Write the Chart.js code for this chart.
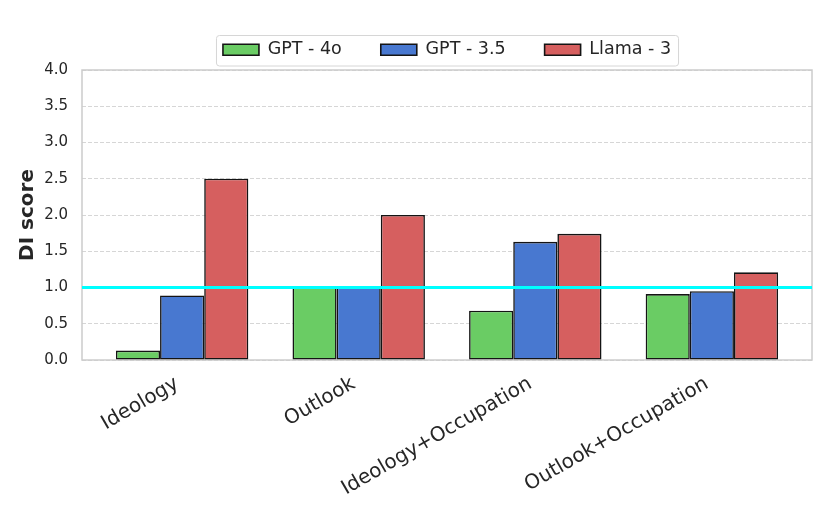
<!DOCTYPE html>
<html>
<head>
<meta charset="utf-8">
<script src="https://cdn.jsdelivr.net/npm/chart.js@4.4.1/dist/chart.umd.min.js"></script>
<style>
    html, body { margin: 0; padding: 0; background: #fff; }
    #wrap { width: 830px; height: 519px; }
</style>
</head>
<body>
<div id="wrap"><canvas id="chart01" width="830" height="519"></canvas></div>
<script>
// values
const categories = ['Ideology', 'Outlook', 'Ideology+Occupation', 'Outlook+Occupation'];
const seriesNames = ['GPT - 4o', 'GPT - 3.5', 'Llama - 3'];
const gpt4o = [0.13, 1.0, 0.68, 0.91];
const gpt35 = [0.89, 1.0, 1.63, 0.95];
const llama3 = [2.5, 2.0, 1.74, 1.21];
const yTicks = [0.0, 0.5, 1.0, 1.5, 2.0, 2.5, 3.0, 3.5, 4.0];
const baseline = 1.0;

const colors = ['#6acc64', '#4878d0', '#d65f5f'];
const textColor = '#262626';
const font = 'DejaVu Sans';
const legendHeight = 68;

function toPoints(arr) {
    return arr.map((v, i) => ({ x: i, y: v }));
}

const frameAndLine = {
    id: 'frameAndLine',
    beforeLayout(chart) {
        // fixed legend height so the plot top lands where the reference has it
        const lg = chart.legend;
        if (lg && !lg._fitWrapped) {
            const orig = lg.fit;
            lg.fit = function () {
                orig.call(this);
                this.height = legendHeight;
            };
            lg._fitWrapped = true;
        }
    },
    afterUpdate(chart) {
        // centre legend over the plot area like the reference
        const lg = chart.legend;
        if (lg) {
            lg.left = chart.chartArea.left;
            lg.right = chart.chartArea.right;
            lg.width = lg.right - lg.left;
            const tops = lg.legendHitBoxes.map(b => b.top);
            lg.adjustHitBoxes();
            lg.legendHitBoxes.forEach((b, i) => { b.top = tops[i]; });
        }
    },
    beforeDatasetsDraw(chart) {
        const { ctx, chartArea: a } = chart;
        ctx.save();
        ctx.strokeStyle = '#cccccc';
        ctx.lineWidth = 1.5;
        ctx.strokeRect(a.left, a.top, a.right - a.left, a.bottom - a.top);
        ctx.restore();
    },
    afterDatasetsDraw(chart) {
        const { ctx, chartArea: a, scales } = chart;
        const y = scales.y.getPixelForValue(baseline);
        ctx.save();
        ctx.strokeStyle = '#00ffff';
        ctx.lineWidth = 3;
        ctx.beginPath();
        ctx.moveTo(a.left, y);
        ctx.lineTo(a.right, y);
        ctx.stroke();
        ctx.restore();
    },
    afterDraw(chart) {
        const lg = chart.legend;
        if (!lg || !lg.legendHitBoxes.length) return;
        const boxes = lg.legendHitBoxes;
        const first = boxes[0], last = boxes[boxes.length - 1];
        const x0 = first.left - 7, x1 = last.left + last.width + 7;
        const y0 = first.top - 6, y1 = first.top + first.height + 7;
        const { ctx } = chart;
        ctx.save();
        ctx.strokeStyle = '#d6d6d6';
        ctx.lineWidth = 1;
        ctx.beginPath();
        ctx.roundRect(x0 + 0.5, y0 + 0.5, x1 - x0, y1 - y0, 3);
        ctx.stroke();
        ctx.restore();
    }
};

const ctx01 = document.getElementById('chart01');
const mainChart = new Chart(ctx01, {
    type: 'bar',
    data: {
        datasets: [
            { label: seriesNames[0], data: toPoints(gpt4o), backgroundColor: colors[0] },
            { label: seriesNames[1], data: toPoints(gpt35), backgroundColor: colors[1] },
            { label: seriesNames[2], data: toPoints(llama3), backgroundColor: colors[2] }
        ]
    },
    options: {
        responsive: false,
        animation: false,
        devicePixelRatio: 1,
        layout: { padding: { left: 0, right: 18, top: 2, bottom: 0 } },
        datasets: {
            bar: {
                borderColor: '#141414',
                borderWidth: 1.6,
                borderSkipped: false,
                categoryPercentage: 0.75,
                barPercentage: 1.0
            }
        },
        plugins: {
            legend: {
                position: 'top',
                labels: {
                    color: textColor,
                    font: { family: font, size: 17.5 },
                    boxWidth: 36,
                    boxHeight: 11,
                    padding: 39
                }
            },
            tooltip: { enabled: false }
        },
        scales: {
            x: {
                type: 'linear',
                min: -0.567,
                max: 3.567,
                offset: false,
                afterBuildTicks(scale) {
                    scale.ticks = categories.map((c, i) => ({ value: i }));
                },
                afterFit(scale) { scale.height = 159; },
                ticks: {
                    color: textColor,
                    font: { family: font, size: 20 },
                    minRotation: 30,
                    maxRotation: 30,
                    padding: 4,
                    labelOffset: -5,
                    callback: (v) => categories[v]
                },
                grid: { display: false },
                border: { display: false }
            },
            y: {
                min: 0,
                max: 4,
                afterBuildTicks(scale) {
                    scale.ticks = yTicks.map(v => ({ value: v }));
                },
                afterFit(scale) { scale.width = 82; },
                ticks: {
                    color: textColor,
                    font: { family: font, size: 15 },
                    padding: 14,
                    callback: (v) => v.toFixed(1)
                },
                grid: {
                    color: '#cccccc',
                    lineWidth: 0.8,
                    drawTicks: false,
                    tickLength: 0
                },
                border: { display: false, dash: [4, 2] },
                title: {
                    display: true,
                    text: 'DI score',
                    color: textColor,
                    font: { family: font, size: 20, weight: 'bold' },
                    padding: { top: 16, bottom: 0 }
                }
            }
        }
    },
    plugins: [frameAndLine]
});
</script>
</body>
</html>
